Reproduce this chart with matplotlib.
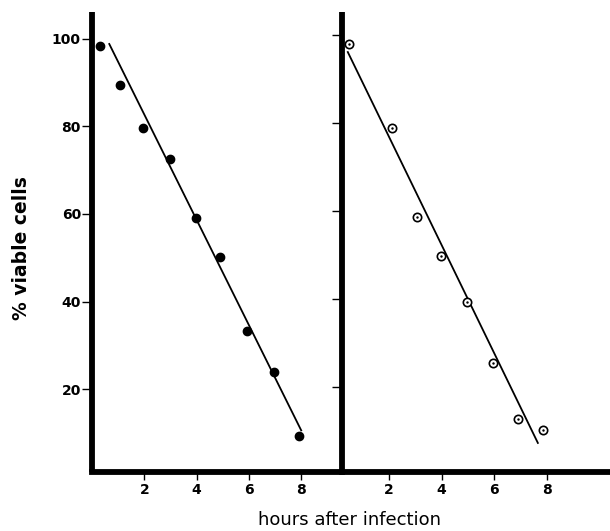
import numpy as np
import matplotlib.pyplot as plt

# left panel (filled circles)
hours_a = [0.32, 1.08, 1.96, 2.99, 3.98, 4.90, 5.93, 6.97, 7.92]
viable_a = [98.4, 89.5, 79.7, 72.6, 59.0, 50.1, 33.2, 23.9, 9.3]
fit_a_hours = [0.66, 8.0]
fit_a_viable = [98.8, 10.6]

# right panel (open circles)
hours_b = [0.48, 2.12, 3.06, 3.98, 4.97, 5.95, 6.90, 7.85]
viable_b = [98.0, 78.9, 58.6, 49.8, 39.3, 25.5, 12.7, 10.2]
fit_b_hours = [0.44, 7.66]
fit_b_viable = [96.1, 7.3]

xticks = [2, 4, 6, 8]
yticks = [20, 40, 60, 80, 100]

fig = plt.figure(figsize=(6.10, 5.31), dpi=100)
bottom = 59 / 531
height = 460 / 531
ax1 = fig.add_axes([92 / 610, bottom, 250 / 610, height])
ax2 = fig.add_axes([342 / 610, bottom, 268 / 610, height])

for ax in (ax1, ax2):
    for s in ("top", "right"):
        ax.spines[s].set_visible(False)
    ax.spines["left"].set_linewidth(4.2)
    ax.spines["bottom"].set_linewidth(4.2)
    ax.spines["left"].set_capstyle("butt")
    ax.set_xticks(xticks)
    ax.set_yticks(yticks)
    ax.tick_params(axis="y", direction="out", length=7, width=1, pad=1)
    ax.tick_params(axis="x", direction="out", length=6, width=1, pad=2)
    for lab in ax.get_xticklabels() + ax.get_yticklabels():
        lab.set_fontweight("bold")
        lab.set_fontsize(10)

ax1.set_xlim(0.0, 9.56)
ax1.set_ylim(1.1, 106.1)
ax2.set_xlim(0.22, 10.4)
ax2.set_ylim(0.7, 105.2)
ax2.set_yticklabels([])

ax1.plot(fit_a_hours, fit_a_viable, color="black", lw=1.3)
ax1.plot(hours_a, viable_a, "o", color="black", ms=6, clip_on=False)

ax2.plot(fit_b_hours, fit_b_viable, color="black", lw=1.3)
ax2.plot(hours_b, viable_b, "o", mfc="white", mec="black", mew=1.2, ms=6, clip_on=False)
ax2.plot(hours_b, viable_b, ".", color="black", ms=1.5)

fig.text(22 / 610, 1 - 248 / 531, "% viable cells", rotation=90, ha="center", va="center",
         fontsize=13.5, fontweight="bold")
fig.text(350 / 610, 1 - 520 / 531, "hours after infection", ha="center", va="center",
         fontsize=13)

fig.savefig("out.png", dpi=100)
